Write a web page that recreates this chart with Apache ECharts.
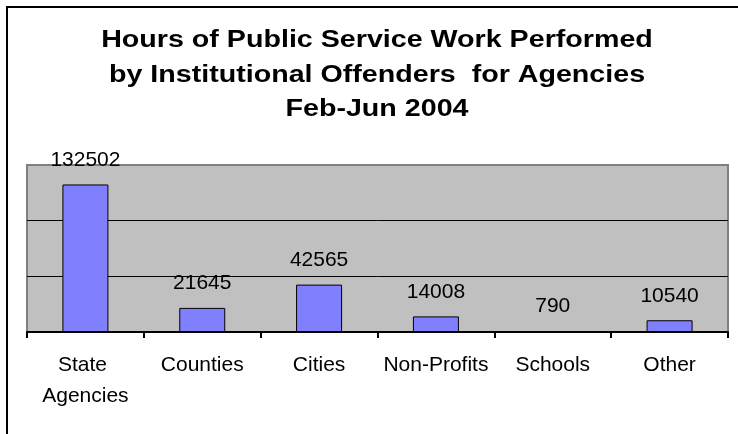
<!DOCTYPE html>
<html>
<head>
<meta charset="utf-8">
<script src="https://cdn.jsdelivr.net/npm/echarts@6/dist/echarts.min.js"></script>
<style>
  html, body { margin: 0; padding: 0; background: #fff; }
  #chart { width: 738px; height: 434px; }
</style>
</head>
<body>
<div id="chart"></div>
<script>
// data
var titleLines = ['Hours of Public Service Work Performed', 'by Institutional Offenders  for Agencies', 'Feb-Jun 2004'];
var categories = ['State Agencies', 'Counties', 'Cities', 'Non-Profits', 'Schools', 'Other'];
var hours = [132502, 21645, 42565, 14008, 790, 10540];
var yMin = 0, yMax = 150000, yStep = 50000;

var font = 'Liberation Sans, Arial, sans-serif';
var chart = echarts.init(document.getElementById('chart'));

// outer frame, only the top and left edges show in the picture
var graphics = [{
	type: 'line',
	shape: { x1: 7, y1: 7, x2: 738, y2: 7 },
	style: { stroke: '#000', lineWidth: 2 },
	silent: true
}, {
	type: 'line',
	shape: { x1: 7, y1: 6, x2: 7, y2: 434 },
	style: { stroke: '#000', lineWidth: 2 },
	silent: true
}];
// title lines, the original text is drawn wide
for (var i = 0; i < titleLines.length; i++) {
	graphics.push({
		type: 'text',
		x: 377,
		y: 41 + i * 34.5,
		scaleX: 1.245,
		silent: true,
		style: {
			text: titleLines[i],
			fontFamily: font,
			fontWeight: 'bold',
			fontSize: 23,
			align: 'center',
			verticalAlign: 'middle',
			fill: '#000'
		}
	});
}

chart.setOption({
	animation: false,
	backgroundColor: '#fff',
	graphic: graphics,
	grid: {
		left: 27, top: 165, right: 10, bottom: 102,
		show: true,
		backgroundColor: '#c0c0c0',
		borderColor: '#808080',
		borderWidth: 2
	},
	xAxis: {
		type: 'category',
		data: categories,
		axisLine: { lineStyle: { color: '#000', width: 2 } },
		axisTick: { show: true, length: 6, lineStyle: { color: '#000', width: 2 } },
		axisLabel: {
			interval: 0,
			margin: 18,
			width: 116,
			overflow: 'break',
			fontFamily: font,
			fontSize: 21,
			lineHeight: 31,
			color: '#000'
		}
	},
	yAxis: {
		type: 'value',
		min: yMin,
		max: yMax,
		interval: yStep,
		axisLine: { show: false },
		axisTick: { show: false },
		axisLabel: { show: false },
		splitLine: { showMinLine: false, showMaxLine: false, lineStyle: { color: '#000', width: 1 } }
	},
	series: [{
		type: 'bar',
		data: hours,
		barWidth: 46,
		itemStyle: { color: '#8080ff', borderColor: '#000', borderWidth: 1 },
		label: {
			show: true,
			position: 'top',
			distance: 14,
			fontFamily: font,
			fontSize: 21,
			color: '#000'
		}
	}]
});
</script>
</body>
</html>
